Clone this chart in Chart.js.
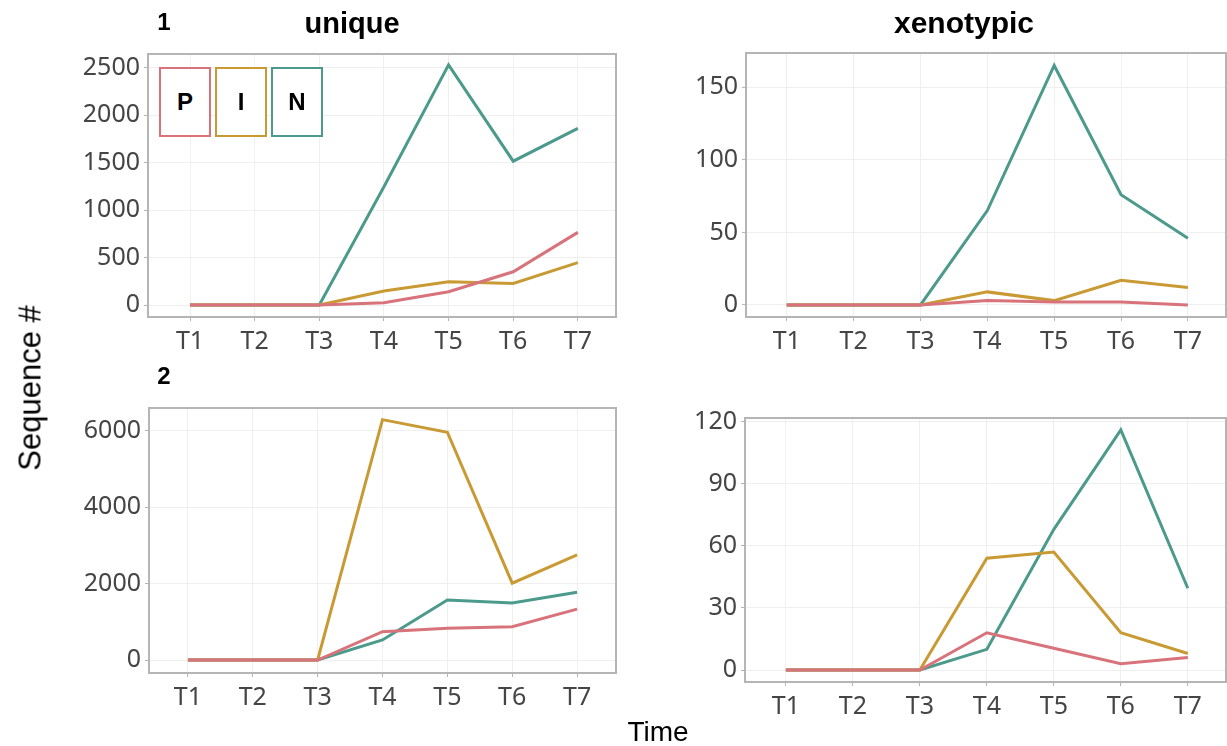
<!DOCTYPE html>
<html><head><meta charset="utf-8">
<script src="https://cdn.jsdelivr.net/npm/chart.js@4.4.1/dist/chart.umd.min.js"></script>
<style>
html,body{margin:0;padding:0;background:#fff;}
#wrap{position:relative;width:1227px;height:746px;overflow:hidden;background:#fff;}
canvas{position:absolute;}
.t{position:absolute;font-family:"Liberation Sans",Arial,sans-serif;color:#000;white-space:nowrap;transform:translate(-50%,-50%);line-height:1;}
.b{font-weight:bold;}
.lg{position:absolute;box-sizing:border-box;border:2px solid;font-family:"Liberation Sans",Arial,sans-serif;font-weight:bold;font-size:24px;color:#000;display:flex;align-items:center;justify-content:center;background:#fff;}
</style></head><body>
<div id="wrap">
<canvas id="c1" width="620" height="360" style="left:0;top:0"></canvas>
<canvas id="c2" width="607" height="360" style="left:620px;top:0"></canvas>
<canvas id="c3" width="620" height="386" style="left:0;top:360px"></canvas>
<canvas id="c4" width="607" height="386" style="left:620px;top:360px"></canvas>
<div class="t b" style="left:164px;top:22px;font-size:24px">1</div>
<div class="t b" style="left:352px;top:23px;font-size:29px">unique</div>
<div class="t b" style="left:964px;top:23px;font-size:30px">xenotypic</div>
<div class="t b" style="left:164px;top:376px;font-size:24px">2</div>
<div class="t" style="left:30px;top:388px;font-size:31px;transform:translate(-50%,-50%) rotate(-90deg)">Sequence #</div>
<div class="t" style="left:658px;top:732px;font-size:28px">Time</div>
<div id="legend"></div>
</div>
<script>
// ---- data ----
const categories = ['T1','T2','T3','T4','T5','T6','T7'];
const seriesNames = ['P','I','N'];
const seriesColors = ['#d8727b','#c99a34','#4b9a8b'];

const unique1P = [0,0,0,25,140,350,765];
const unique1I = [0,0,0,147,246,228,446];
const unique1N = [0,0,0,1245,2530,1515,1860];

const xeno1P = [0,0,0,3,2,2,0];
const xeno1I = [0,0,0,9,3,17,12];
const xeno1N = [0,0,0,65,165,76,46];

const unique2P = [0,0,0,740,830,870,1330];
const unique2I = [0,0,0,6290,5960,2010,2750];
const unique2N = [0,0,0,525,1570,1490,1775];

const xeno2P = [0,0,0,18,10.5,3,6];
const xeno2I = [0,0,0,54,57,18,8];
const xeno2N = [0,0,0,10,68,116,39.5];

const unique1Ticks = [0,500,1000,1500,2000,2500];
const xeno1Ticks = [0,50,100,150];
const unique2Ticks = [0,2000,4000,6000];
const xeno2Ticks = [0,30,60,90,120];

// ---- drawing ----
const boxPlugin = {
  id:'box',
  beforeDatasetsDraw(chart){
    const a = chart.chartArea, ctx = chart.ctx;
    ctx.save();
    ctx.strokeStyle = '#b5b5b5';
    ctx.lineWidth = 2;
    ctx.strokeRect(a.left, a.top, a.right-a.left, a.bottom-a.top);
    ctx.restore();
  }
};

const tickFont = {family:'"Noto Sans", "Open Sans", sans-serif', size:25};

function makePanel(id, series, yTicks, p){
  const datasets = series.map((vals,k)=>({
    label: seriesNames[k],
    data: categories.map((c,i)=>({x:i, y:vals[i]})),
    borderColor: seriesColors[k],
    backgroundColor: seriesColors[k],
    borderWidth: 3,
    pointRadius: 0,
    tension: 0,
    fill: false
  }));
  new Chart(document.getElementById(id), {
    type:'line',
    data:{datasets},
    plugins:[boxPlugin],
    options:{
      responsive:false, animation:false,
      layout:{padding:{top:p.top, right:p.right, left:0, bottom:0}},
      plugins:{legend:{display:false}, tooltip:{enabled:false}},
      scales:{
        x:{
          type:'linear', min:p.xMin, max:p.xMax,
          afterBuildTicks(s){ s.ticks = categories.map((c,i)=>({value:i})); },
          afterFit(s){ s.height = p.xH; },
          ticks:{callback:(v)=>categories[v], font:tickFont, color:'#454545', padding:6, maxRotation:0, autoSkip:false},
          grid:{color:'#efefef', lineWidth:1, tickLength:4, tickColor:'#b5b5b5'},
          border:{display:false}
        },
        y:{
          type:'linear', min:p.yMin, max:p.yMax,
          afterBuildTicks(s){ s.ticks = yTicks.map(v=>({value:v})); },
          afterFit(s){ s.width = p.left; },
          ticks:{callback:(v)=>String(v), font:tickFont, color:'#454545', padding:4},
          grid:{color:'#efefef', lineWidth:1, tickLength:4, tickColor:'#b5b5b5'},
          border:{display:false}
        }
      }
    }
  });
}

makePanel('c1', [unique1P, unique1I, unique1N], unique1Ticks,
  {left:148, right:4, top:54, xH:43, xMin:-0.65, xMax:6.59, yMin:-126, yMax:2644});
makePanel('c2', [xeno1P, xeno1I, xeno1N], xeno1Ticks,
  {left:126, right:1, top:53, xH:43, xMin:-0.61, xMax:6.57, yMin:-8.3, yMax:173.6});
makePanel('c3', [unique2P, unique2I, unique2N], unique2Ticks,
  {left:149, right:4, top:48, xH:73, xMin:-0.60, xMax:6.60, yMin:-340, yMax:6594});
makePanel('c4', [xeno2P, xeno2I, xeno2N], xeno2Ticks,
  {left:125, right:1, top:58, xH:64, xMin:-0.61, xMax:6.57, yMin:-5.8, yMax:121.8});

// legend boxes (top-left panel)
const legendPos = [[159,67],[215,67],[271,67]];
const lg = document.getElementById('legend');
seriesNames.forEach((n,k)=>{
  const d = document.createElement('div');
  d.className = 'lg';
  d.style.left = legendPos[k][0]+'px';
  d.style.top = legendPos[k][1]+'px';
  d.style.width = '52px';
  d.style.height = '70px';
  d.style.borderColor = seriesColors[k];
  d.textContent = n;
  lg.appendChild(d);
});
</script>
</body></html>
